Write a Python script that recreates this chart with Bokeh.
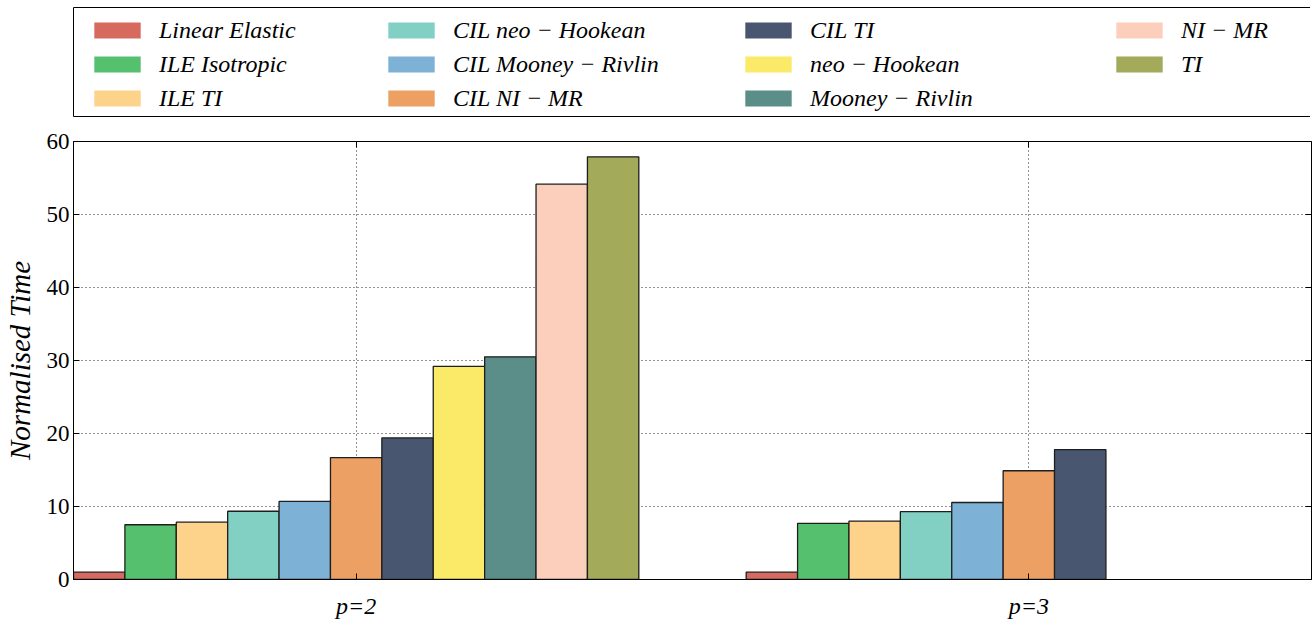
import numpy as np
from bokeh.plotting import figure
from bokeh.models import (ColumnDataSource, Range1d, FixedTicker, LinearAxis,
                          Legend, LegendItem)
from bokeh.layouts import column
from bokeh.embed import file_html
from bokeh.resources import INLINE

# ---------------- data ----------------
groups = ["p=2", "p=3"]
series = ["Linear Elastic", "ILE Isotropic", "ILE TI", "CIL neo \u2212 Hookean",
          "CIL Mooney \u2212 Rivlin", "CIL NI \u2212 MR", "CIL TI", "neo \u2212 Hookean",
          "Mooney \u2212 Rivlin", "NI \u2212 MR", "TI"]
colors = ["#d76a5f", "#55c16f", "#fdd28b", "#82d0c3", "#7db1d5", "#eca064",
          "#48576f", "#fbea67", "#5b8e89", "#fbcfbc", "#a3aa59"]
time_p2 = [1.0, 7.5, 7.85, 9.35, 10.7, 16.7, 19.4, 29.2, 30.5, 54.15, 57.9]
time_p3 = [1.0, 7.7, 8.0, 9.3, 10.55, 14.9, 17.8, None, None, None, None]
y_ticks = [0, 10, 20, 30, 40, 50, 60]

FONT = "Liberation Serif"
BAR_W = 0.0764
n = len(series)
mid = (n - 1) / 2.0  # group centre sits on the middle bar

# ---------------- main chart ----------------
p = figure(frame_width=1238, frame_height=438,
           x_range=Range1d(-(mid + 0.5) * BAR_W, 1 + (mid + 0.5) * BAR_W),
           y_range=Range1d(0, 60),
           output_backend="svg", toolbar_location=None,
           min_border_left=70, min_border_right=2, min_border_top=17, min_border_bottom=40)
p.background_fill_color = "white"
p.border_fill_color = "white"
p.outline_line_color = "black"
p.outline_line_width = 1

all_vals = [time_p2, time_p3]
sources = []
for i, (name, col) in enumerate(zip(series, colors)):
    xs, tops = [], []
    for g, vals in enumerate(all_vals):
        if vals[i] is not None:
            xs.append(g + (i - mid) * BAR_W)
            tops.append(vals[i])
    src = ColumnDataSource(dict(x=xs, top=tops))
    sources.append(src)
    p.vbar(x="x", top="top", bottom=0, width=BAR_W, source=src,
           fill_color=col, line_color="#1e1e1e", line_width=1.3)

# axes
p.xaxis.ticker = FixedTicker(ticks=list(range(len(groups))))
p.xaxis.major_label_overrides = {g: lab for g, lab in enumerate(groups)}
p.yaxis.ticker = FixedTicker(ticks=y_ticks)
for ax in (p.xaxis[0], p.yaxis[0]):
    ax.axis_line_color = "black"
    ax.major_tick_line_color = "black"
    ax.major_tick_in = 6
    ax.major_tick_out = 0
    ax.minor_tick_line_color = None
    ax.major_label_text_font = FONT
    ax.major_label_text_color = "black"
p.yaxis.major_label_text_font_size = "23px"
p.yaxis.major_label_standoff = 4
p.xaxis.major_label_text_font_size = "24px"
p.xaxis.major_label_text_font_style = "italic"
p.xaxis.major_label_standoff = 13
p.yaxis.axis_label = "Normalised Time"
p.yaxis.axis_label_text_font = FONT
p.yaxis.axis_label_text_font_style = "italic"
p.yaxis.axis_label_text_font_size = "29px"
p.yaxis.axis_label_text_color = "black"
p.yaxis.axis_label_standoff = 8

# inward ticks on the right and top edges (no labels)
rax = LinearAxis(ticker=FixedTicker(ticks=y_ticks), major_label_text_font_size="1px",
                 major_label_text_color=None,
                 major_label_standoff=0, axis_line_color=None, major_tick_in=6,
                 major_tick_out=0, minor_tick_line_color=None, major_tick_line_color="black")
p.add_layout(rax, "right")
tax = LinearAxis(ticker=FixedTicker(ticks=list(range(len(groups)))), major_label_text_font_size="1px",
                 major_label_text_color=None,
                 major_label_standoff=0, axis_line_color=None, major_tick_in=6,
                 major_tick_out=0, minor_tick_line_color=None, major_tick_line_color="black")
p.add_layout(tax, "above")

# grid
for gr in (p.xgrid[0], p.ygrid[0]):
    gr.grid_line_color = "black"
    gr.grid_line_alpha = 0.85
    gr.grid_line_width = 1
    gr.grid_line_dash = "1 3"
p.xgrid.ticker = FixedTicker(ticks=list(range(len(groups))))
p.ygrid.ticker = FixedTicker(ticks=y_ticks)

# ---------------- legend panel ----------------
leg = figure(frame_width=1238, frame_height=109, x_range=Range1d(0, 1), y_range=Range1d(0, 1),
             output_backend="svg", toolbar_location=None,
             min_border_left=70, min_border_right=2, min_border_top=7, min_border_bottom=8,
             x_axis_location=None, y_axis_location=None)
leg.grid.visible = False
leg.outline_line_color = "black"
leg.outline_line_width = 1
leg.background_fill_color = "white"
leg.border_fill_color = "white"

swatches = []
for src, col in zip(sources, colors):
    r = leg.vbar(x="x", top="top", width=BAR_W, source=src,
                 fill_color=col, line_color=None, visible=False)
    swatches.append(r)

columns = [[0, 1, 2], [3, 4, 5], [6, 7, 8], [9, 10]]
col_x = [64, 358, 715, 1086]
for xs_, idxs in zip(col_x, columns):
    items = [LegendItem(label=series[k], renderers=[swatches[k]]) for k in idxs]
    h = 34 * len(idxs)
    lg = Legend(items=items, location=(xs_, 109 - 6 - h), orientation="vertical",
                border_line_color=None, background_fill_alpha=0,
                padding=0, margin=0, spacing=0,
                glyph_width=58, glyph_height=20, label_height=34, label_standoff=13,
                label_text_font=FONT, label_text_font_style="italic",
                label_text_font_size="24px", label_text_color="black")
    leg.add_layout(lg, "center")

layout = column(leg, p, spacing=0)
open("out.html", "w").write(file_html(layout, INLINE))
